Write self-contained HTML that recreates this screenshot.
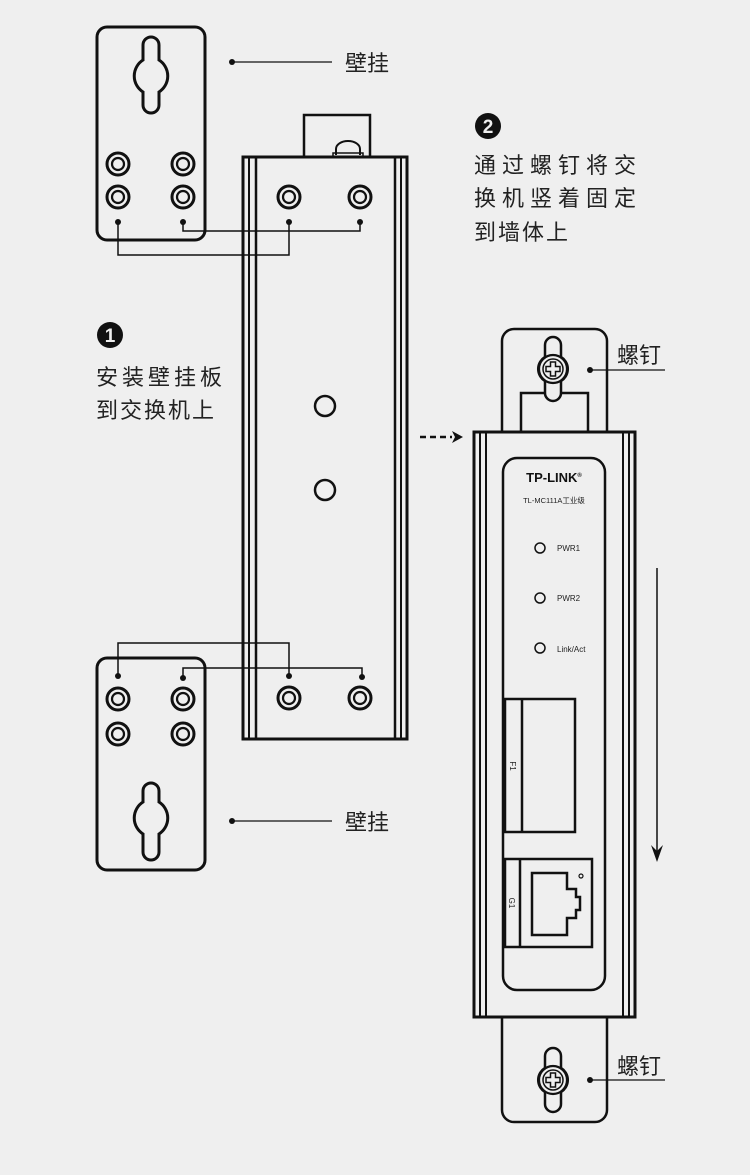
<!DOCTYPE html>
<html><head><meta charset="utf-8"><style>
html,body{margin:0;padding:0;background:#efefef;}
svg{display:block;font-family:"Liberation Sans","Noto Sans CJK SC",sans-serif;}
.cn{font-family:"Liberation Sans","Noto Sans CJK SC",sans-serif;fill:#222;}
</style></head><body>
<svg width="750" height="1175" viewBox="0 0 750 1175" xmlns="http://www.w3.org/2000/svg">
<defs>
<g id="hole"><circle r="11" fill="none" stroke="#111" stroke-width="3"/><circle r="6" fill="none" stroke="#111" stroke-width="2.2"/></g>
<g id="screw"><path d="M-8,-24 A8,8 0 0 1 8,-24 L8,-12 A14,14 0 0 1 8,12 L8,24 A8,8 0 0 1 -8,24 L-8,12 A14,14 0 0 1 -8,-12 Z" fill="#efefef" stroke="#111" stroke-width="2.5"/><circle r="14" fill="#efefef" stroke="#111" stroke-width="2.2"/><circle r="10" fill="none" stroke="#111" stroke-width="1.5"/><path d="M-2.5,-7 h5 v4.5 h4.5 v5 h-4.5 v4.5 h-5 v-4.5 h-4.5 v-5 h4.5 z" fill="none" stroke="#111" stroke-width="1.5"/></g>
</defs>
<rect width="750" height="1175" fill="#efefef"/>
<g fill="none" stroke="#111">
<rect x="97" y="27" width="108" height="213" rx="10" stroke-width="3"/>
<path d="M143,45 A8,8 0 0 1 159,45 L159,60 A19,19 0 0 1 159,92 L159,105 A8,8 0 0 1 143,105 L143,92 A19,19 0 0 1 143,60 Z" stroke-width="3"/>
<rect x="97" y="658" width="108" height="212" rx="10" stroke-width="3"/>
<path d="M143,791 A8,8 0 0 1 159,791 L159,802 A19,19 0 0 1 159,834 L159,852 A8,8 0 0 1 143,852 L143,834 A19,19 0 0 1 143,802 Z" stroke-width="3"/>
<rect x="304" y="115" width="66" height="42" stroke-width="2.5"/>
<path d="M336,155 v-6 a12,8 0 0 1 24,0 v6" stroke-width="2"/>
<rect x="333" y="153" width="30" height="4" stroke-width="1.5"/>
<rect x="243" y="157" width="164" height="582" stroke-width="3"/>
<line x1="249" y1="157" x2="249" y2="739" stroke-width="2"/>
<line x1="256" y1="157" x2="256" y2="739" stroke-width="2.5"/>
<line x1="395" y1="157" x2="395" y2="739" stroke-width="2.5"/>
<line x1="401" y1="157" x2="401" y2="739" stroke-width="2"/>
<circle cx="325" cy="406" r="10" stroke-width="2.5"/>
<circle cx="325" cy="490" r="10" stroke-width="2.5"/>
<path d="M118,222 V255 H289 V222 M183,222 V231 H360 V222" stroke-width="1.5"/>
<path d="M118,676 V643 H289 V676 M183,678 V668 H362 V677" stroke-width="1.5"/>
<line x1="232" y1="62" x2="332" y2="62" stroke-width="1.2"/>
<line x1="232" y1="821" x2="332" y2="821" stroke-width="1.2"/>
<path d="M502,432 V341 A12,12 0 0 1 514,329 H595 A12,12 0 0 1 607,341 V432" stroke-width="2.5"/>
<rect x="521" y="393" width="67" height="39" stroke-width="2.5"/>
<rect x="474" y="432" width="161" height="585" stroke-width="3"/>
<line x1="480" y1="432" x2="480" y2="1017" stroke-width="2"/>
<line x1="486" y1="432" x2="486" y2="1017" stroke-width="2"/>
<line x1="623" y1="432" x2="623" y2="1017" stroke-width="2"/>
<line x1="629" y1="432" x2="629" y2="1017" stroke-width="2"/>
<rect x="503" y="458" width="102" height="532" rx="14" stroke-width="2.5"/>
<circle cx="540" cy="548" r="5" stroke-width="1.5"/>
<circle cx="540" cy="598" r="5" stroke-width="1.5"/>
<circle cx="540" cy="648" r="5" stroke-width="1.5"/>
<rect x="505" y="699" width="70" height="133" stroke-width="2.5"/>
<line x1="522" y1="699" x2="522" y2="832" stroke-width="2.5"/>
<rect x="505" y="859" width="87" height="88" stroke-width="2.5"/>
<line x1="520" y1="859" x2="520" y2="947" stroke-width="2.5"/>
<path d="M532,873 H567 V889 H576 V897 H580 V910 H576 V918 H567 V935 H532 Z" stroke-width="2.5"/>
<circle cx="581" cy="876" r="2" stroke-width="1.2"/>
<path d="M502,1017 V1110 A12,12 0 0 0 514,1122 H595 A12,12 0 0 0 607,1110 V1017" stroke-width="2.5"/>
<line x1="590" y1="370" x2="665" y2="370" stroke-width="1.2"/>
<line x1="590" y1="1080" x2="665" y2="1080" stroke-width="1.2"/>
<line x1="420" y1="437" x2="452" y2="437" stroke-width="2.5" stroke-dasharray="6,4"/>
<line x1="657" y1="568" x2="657" y2="855" stroke-width="1.5"/>
</g>
<path d="M452,431 L463,437 L452,443 L455,437 Z" fill="#111"/>
<path d="M651,845 L657,862 L663,845 L657,851 Z" fill="#111"/>
<g fill="#111">
<circle cx="118" cy="222" r="3"/><circle cx="183" cy="222" r="3"/><circle cx="289" cy="222" r="3"/><circle cx="360" cy="222" r="3"/>
<circle cx="118" cy="676" r="3"/><circle cx="183" cy="678" r="3"/><circle cx="289" cy="676" r="3"/><circle cx="362" cy="677" r="3"/>
<circle cx="232" cy="62" r="3"/><circle cx="232" cy="821" r="3"/>
<circle cx="590" cy="370" r="3"/><circle cx="590" cy="1080" r="3"/>
</g>
<g>
<use href="#hole" x="118" y="164"/><use href="#hole" x="183" y="164"/><use href="#hole" x="118" y="197"/><use href="#hole" x="183" y="197"/>
<use href="#hole" x="289" y="197"/><use href="#hole" x="360" y="197"/>
<use href="#hole" x="289" y="698"/><use href="#hole" x="360" y="698"/>
<use href="#hole" x="118" y="699"/><use href="#hole" x="183" y="699"/><use href="#hole" x="118" y="734"/><use href="#hole" x="183" y="734"/>
<use href="#screw" x="553" y="369"/><use href="#screw" x="553" y="1080"/>
</g>
<text x="345" y="71" class="cn" font-size="22">壁挂</text>
<text x="345" y="830" class="cn" font-size="22">壁挂</text>
<text x="617" y="363" class="cn" font-size="22">螺钉</text>
<text x="617" y="1074" class="cn" font-size="22">螺钉</text>
<circle cx="488" cy="126" r="13" fill="#111"/>
<text x="488" y="133" text-anchor="middle" font-size="19" font-weight="bold" fill="#efefef">2</text>
<text x="474" y="173" class="cn" font-size="22" letter-spacing="6">通过螺钉将交</text>
<text x="474" y="206" class="cn" font-size="22" letter-spacing="6">换机竖着固定</text>
<text x="474" y="240" class="cn" font-size="22" letter-spacing="2">到墙体上</text>
<circle cx="110" cy="335" r="13" fill="#111"/>
<text x="110" y="342" text-anchor="middle" font-size="19" font-weight="bold" fill="#efefef">1</text>
<text x="96" y="385" class="cn" font-size="22" letter-spacing="4">安装壁挂板</text>
<text x="96" y="418" class="cn" font-size="22" letter-spacing="2">到交换机上</text>
<text x="554" y="482" text-anchor="middle" font-size="13" font-weight="bold" fill="#111">TP-LINK<tspan font-size="6" dy="-5">®</tspan></text>
<text x="554" y="503" text-anchor="middle" class="cn" font-size="7.5">TL-MC111A工业级</text>
<text x="557" y="551" font-size="8" fill="#222">PWR1</text>
<text x="557" y="601" font-size="8" fill="#222">PWR2</text>
<text x="557" y="652" font-size="8" fill="#222">Link/Act</text>
<text transform="translate(510,766) rotate(90)" font-size="8" fill="#222" text-anchor="middle">F1</text>
<text transform="translate(509,903) rotate(90)" font-size="8" fill="#222" text-anchor="middle">G1</text>
</svg>
</body></html>
